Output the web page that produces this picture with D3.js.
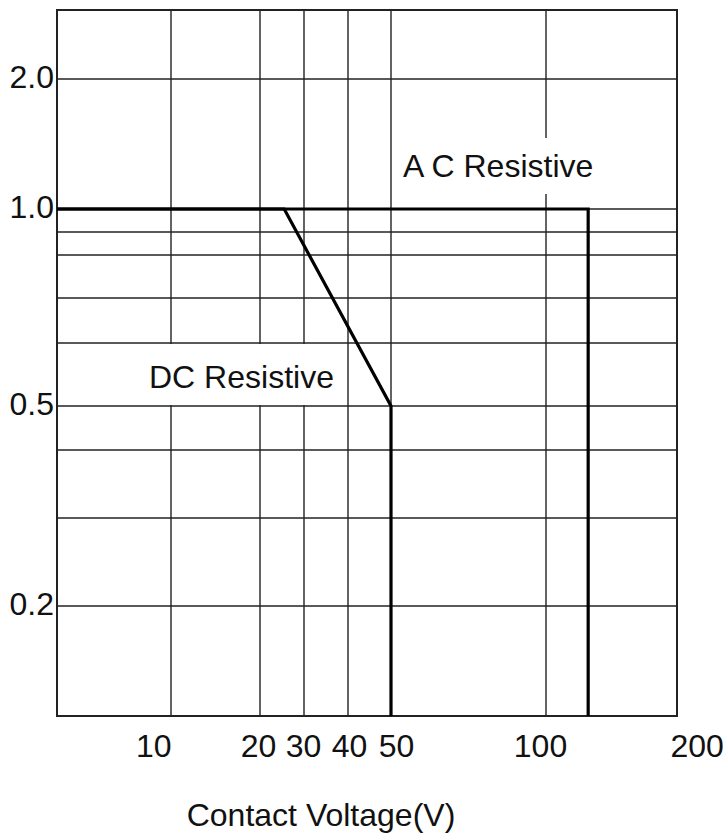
<!DOCTYPE html>
<html>
<head lang="en">
    <meta charset="UTF-8">
    <title>Contact Voltage</title>
    <script src="https://cdnjs.cloudflare.com/ajax/libs/d3/7.8.5/d3.min.js"></script>
    <style>
        body { margin: 0; background: #fff; }
        text { font-family: "Liberation Sans", Arial, sans-serif; fill: #111; }
    </style>
</head>
<body>

<script>

    // grid values (the chart is hand drawn, so the scales are piecewise)
    var xGridValues = [5, 10, 20, 30, 40, 50, 100, 200];
    var yGridValues = [0.1, 0.2, 0.3, 0.4, 0.5, 0.6, 0.7, 0.8, 0.9, 1.0, 2.0, 3.0];

    // tick labels
    var xTickValues = [10, 20, 30, 40, 50, 100, 200];
    var xTickLabels = ["10", "20", "30", "40", "50", "100", "200"];
    var yTickValues = [0.2, 0.5, 1.0, 2.0];
    var yTickLabels = ["0.2", "0.5", "1.0", "2.0"];

    // limit curves
    var dcVoltage = [5, 25, 50, 50];
    var dcCurrent = [1.0, 1.0, 0.5, 0.1];
    var acVoltage = [5, 125, 125];
    var acCurrent = [1.0, 1.0, 0.1];

    var width = 728;
    var height = 840;

    // where each grid value sits on the page
    var xRange = [57, 171, 260, 304, 348, 391, 546, 677];
    var yRange = [716, 606, 518, 450, 406, 343, 298, 255, 232, 209, 79, 10];

    var xs = d3.scaleLinear().domain(xGridValues.map(Math.log10)).range(xRange);
    var ys = d3.scaleLinear().domain(yGridValues.map(Math.log10)).range(yRange);
    function x(v) { return xs(Math.log10(v)); }
    function y(v) { return ys(Math.log10(v)); }

    var plotLeft = x(5), plotRight = x(200), plotTop = y(3.0), plotBottom = y(0.1);

    var svg = d3.select("body")
            .append("svg")
            .attr("width", width)
            .attr("height", height);

    var grid = svg.append("g")
            .attr("stroke", "#222")
            .attr("stroke-width", 1.4);

    grid.selectAll("line.v")
            .data(xGridValues.slice(1, -1))
            .enter()
            .append("line")
            .attr("class", "v")
            .attr("x1", function(d){ return x(d); })
            .attr("x2", function(d){ return x(d); })
            .attr("y1", plotTop)
            .attr("y2", plotBottom);

    grid.selectAll("line.h")
            .data(yGridValues.slice(1, -1))
            .enter()
            .append("line")
            .attr("class", "h")
            .attr("y1", function(d){ return y(d); })
            .attr("y2", function(d){ return y(d); })
            .attr("x1", plotLeft)
            .attr("x2", plotRight);

    svg.append("rect")
            .attr("x", plotLeft)
            .attr("y", plotTop)
            .attr("width", plotRight - plotLeft)
            .attr("height", plotBottom - plotTop)
            .attr("fill", "none")
            .attr("stroke", "#222")
            .attr("stroke-width", 2);

    // curve labels, each on a white patch that hides the grid under it
    var dcText = svg.append("text")
            .attr("x", 149)
            .attr("y", 388)
            .attr("font-size", 32)
            .text("DC Resistive");
    var dcBox = dcText.node().getBBox();
    svg.insert("rect", "text")
            .attr("x", plotLeft + 2)
            .attr("y", y(0.6) + 1)
            .attr("width", dcBox.x + dcBox.width + 4 - plotLeft - 2)
            .attr("height", y(0.5) - y(0.6) - 2)
            .attr("fill", "#fff");

    var acText = svg.append("text")
            .attr("x", 403)
            .attr("y", 177)
            .attr("font-size", 32)
            .text("A C Resistive");
    var acBox = acText.node().getBBox();
    svg.insert("rect", "text")
            .attr("x", acBox.x - 6)
            .attr("y", acBox.y - 10)
            .attr("width", acBox.width + 12)
            .attr("height", acBox.height + 20)
            .attr("fill", "#fff");

    var line = d3.line()
            .x(function(d){ return x(d[0]); })
            .y(function(d){ return y(d[1]); });

    svg.append("path")
            .datum(d3.zip(acVoltage, acCurrent))
            .attr("d", line)
            .attr("fill", "none")
            .attr("stroke", "#000")
            .attr("stroke-width", 3.2);

    svg.append("path")
            .datum(d3.zip(dcVoltage, dcCurrent))
            .attr("d", line)
            .attr("fill", "none")
            .attr("stroke", "#000")
            .attr("stroke-width", 3.2);

    // axes (labels only, the grid is drawn above)
    var xAxis = svg.append("g")
            .attr("transform", "translate(0," + plotBottom + ")")
            .call(d3.axisBottom(xs)
                .tickValues(xTickValues.map(Math.log10))
                .tickFormat(function(d, i){ return xTickLabels[i]; })
                .tickSize(0)
                .tickPadding(0));
    xAxis.select(".domain").remove();
    var xLabelShift = [0, -2, -1, 1, 5, -6, -7];
    xAxis.selectAll("text")
            .attr("font-size", 32)
            .attr("font-family", null)
            .attr("fill", "#111")
            .attr("y", 41)
            .attr("dy", null)
            .attr("text-anchor", function(d, i){
                if (i === 0) return "end";
                if (i === xTickLabels.length - 1) return "start";
                return "middle";
            })
            .attr("dx", function(d, i){ return xLabelShift[i]; });

    var yAxis = svg.append("g")
            .attr("transform", "translate(" + (plotLeft - 3) + ",0)")
            .call(d3.axisLeft(ys)
                .tickValues(yTickValues.map(Math.log10))
                .tickFormat(function(d, i){ return yTickLabels[i]; })
                .tickSize(0)
                .tickPadding(0));
    yAxis.select(".domain").remove();
    yAxis.selectAll("text")
            .attr("font-size", 32)
            .attr("font-family", null)
            .attr("fill", "#111")
            .attr("dy", "0.25em");

    svg.append("text")
            .attr("x", 321)
            .attr("y", 826)
            .attr("text-anchor", "middle")
            .attr("font-size", 32)
            .text("Contact Voltage(V)");

</script>

</body>
</html>
